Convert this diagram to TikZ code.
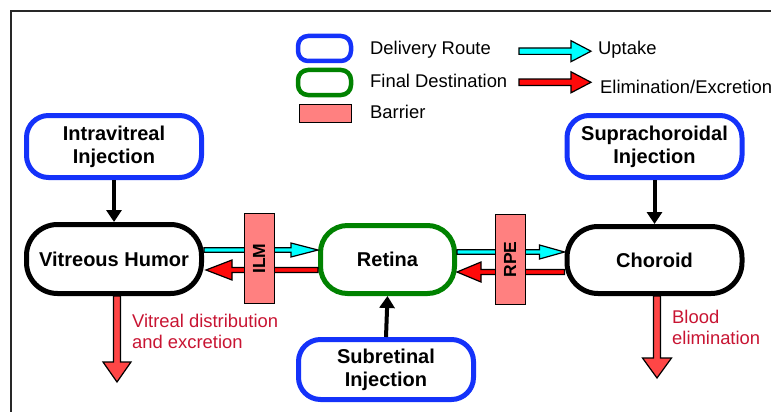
\documentclass[tikz,border=0pt]{standalone}
\usepackage{fontspec}
\setmainfont{Liberation Sans}
\usetikzlibrary{calc,arrows.meta}

\definecolor{routeblue}{RGB}{20,50,250}
\definecolor{destgreen}{RGB}{0,130,0}
\definecolor{barrierfill}{RGB}{255,128,128}
\definecolor{upcyan}{RGB}{0,255,255}
\definecolor{elimred}{RGB}{255,10,10}
\definecolor{droppink}{RGB}{255,70,70}
\definecolor{labelred}{RGB}{200,20,50}
\definecolor{framegray}{RGB}{40,40,40}

% Block arrow: #1 fill, #2 tail coordinate, #3 tip coordinate,
% #4 half shaft width, #5 half head width, #6 head length
\newcommand{\blockarrow}[6]{%
  \coordinate (bah) at ($(#3)!#6!(#2)$);
  \draw[arrowline, fill=#1]
    ($(#2)!#4!90:(#3)$) -- ($(bah)!#4!-90:(#2)$) -- ($(bah)!#5!-90:(#2)$)
    -- (#3) -- ($(bah)!#5!90:(#2)$) -- ($(bah)!#4!90:(#2)$)
    -- ($(#2)!#4!-90:(#3)$) -- cycle;
}

\tikzset{
  boldtext/.style={font=\fontsize{20}{23}\selectfont\bfseries, align=center},
  routebox/.style={boldtext, draw=routeblue, line width=5pt, fill=white,
    rounded corners=22pt, minimum width=175pt, minimum height=62pt, inner sep=0pt},
  tissuebox/.style={boldtext, draw=black, line width=5pt, fill=white,
    rounded corners=31pt, minimum width=175pt, minimum height=69pt, inner sep=0pt},
  destbox/.style={boldtext, draw=destgreen, line width=5pt, fill=white,
    rounded corners=27pt, minimum width=134pt, minimum height=68pt, inner sep=0pt},
  barrierbox/.style={draw=black, line width=1pt, fill=barrierfill,
    minimum width=30pt, minimum height=90pt, inner sep=0pt},
  barrierlabel/.style={font=\fontsize{17.5}{20}\selectfont\bfseries, rotate=90},
  legendtext/.style={font=\fontsize{18.4}{21}\selectfont, anchor=base west, inner sep=0pt},
  notetext/.style={font=\fontsize{18.4}{21}\selectfont, text=labelred,
    align=left, anchor=north west, inner sep=0pt},
  arrowline/.style={draw=black, line width=1.2pt, line join=miter},
  injarrow/.style={draw=black, line width=4pt, -{Triangle[length=12pt,width=15pt]}},
}

\begin{document}
\begin{tikzpicture}[x=1pt,y=-1pt]
\useasboundingbox (0,0) rectangle (771,412);

% outer frame (top and left edges)
\draw[framegray, line width=1.3pt] (11,412) -- (11,11) -- (771,11);

% legend
\node[draw=routeblue, line width=4.5pt, rounded corners=10pt,
  minimum width=53pt, minimum height=25pt, inner sep=0pt] (lgroute) at (324.5,48.5) {};
\node[draw=destgreen, line width=4.5pt, rounded corners=10pt,
  minimum width=53pt, minimum height=25pt, inner sep=0pt] (lgdest) at (324.5,82.5) {};
\node[draw=black, line width=1pt, fill=barrierfill,
  minimum width=52pt, minimum height=18pt, inner sep=0pt] (lgbarrier) at (325,113) {};
\node[legendtext] (lgroutetxt) at (370,55) {Delivery Route};
\node[legendtext] (lgdesttxt) at (370,87.7) {Final Destination};
\node[legendtext] (lgbarriertxt) at (370,118) {Barrier};
\coordinate (lgupA) at (519,51.2);
\coordinate (lgupB) at (591,51.2);
\coordinate (lgelA) at (519,82.3);
\coordinate (lgelB) at (591,82.3);
\blockarrow{upcyan}{lgupA}{lgupB}{3.2pt}{10.5pt}{20pt}
\blockarrow{elimred}{lgelA}{lgelB}{3.2pt}{10.5pt}{20pt}
\node[legendtext] (lguptxt) at (598,55) {Uptake};
\node[legendtext] (lgeltxt) at (600,93) {Elimination/Excretion};

% delivery routes
\node[routebox] (iv) at (114,146.5) {Intravitreal\\Injection};
\node[routebox] (sc) at (654.5,146.5) {Suprachoroidal\\Injection};
\node[routebox, minimum height=60pt] (sr) at (386,369.5) {Subretinal\\Injection};

% tissues
\node[tissuebox] (vh) at (114,259) {Vitreous Humor};
\node[destbox] (ret) at (387.5,259.5) {Retina};
\node[tissuebox, minimum height=67pt] (ch) at (654.5,260) {Choroid};

% injections into tissues
\draw[injarrow] (iv.south) -- (vh.north);
\draw[injarrow] (sc.south) -- (ch.north);
\draw[injarrow] (sr.north) -- (ret.south);

% exchange between tissues
\coordinate (vhup) at ($(vh.east)+(0,-9)$);
\coordinate (retupin) at ($(ret.west)+(0,-9.5)$);
\coordinate (retel) at ($(ret.west)+(0,10.5)$);
\coordinate (vhel) at ($(vh.east)+(2,11)$);
\coordinate (retup) at ($(ret.east)+(0,-7.5)$);
\coordinate (chupin) at ($(ch.west)+(0,-8)$);
\coordinate (chel) at ($(ch.west)+(0,12)$);
\coordinate (retelin) at ($(ret.east)+(0,12.5)$);
\blockarrow{upcyan}{vhup}{retupin}{2.2pt}{7pt}{27pt}
\blockarrow{elimred}{retel}{vhel}{2.5pt}{10pt}{26pt}
\blockarrow{upcyan}{retup}{chupin}{2.2pt}{7pt}{25pt}
\blockarrow{elimred}{chel}{retelin}{2.5pt}{10pt}{24pt}

% barriers
\node[barrierbox] (ilm) at (259,258.5) {};
\node[barrierlabel] (ilmtxt) at (ilm.center) {ILM};
\node[barrierbox] (rpe) at (510,259.5) {};
\node[barrierlabel] (rpetxt) at (rpe.center) {RPE};

% elimination out of the eye
\coordinate (vhout) at ($(vh.south)+(3,0)$);
\coordinate (vhend) at (117,382);
\coordinate (chout) at ($(ch.south)+(2.5,0)$);
\coordinate (chend) at (657,378);
\blockarrow{droppink}{vhout}{vhend}{3.5pt}{14pt}{20pt}
\blockarrow{droppink}{chout}{chend}{3.5pt}{14.5pt}{20pt}
\node[notetext] (vhnote) at (132,313.5) {Vitreal distribution\\and excretion};
\node[notetext] (chnote) at (672,309.5) {Blood\\elimination};
\end{tikzpicture}
\end{document}
